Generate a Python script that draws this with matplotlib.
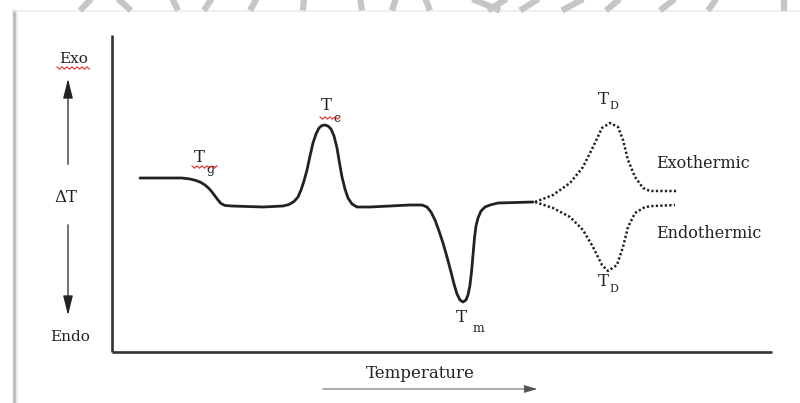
import matplotlib
matplotlib.use("Agg")
import matplotlib.pyplot as plt
from matplotlib.lines import Line2D
from matplotlib.transforms import Affine2D
import matplotlib.patches as mpatches

# DSC trace: temperature (arbitrary units) vs. heat-flow signal (arbitrary units)
temp_main = [28, 60, 70, 78, 84, 89, 93, 97, 100, 103, 106, 109, 113, 120, 151,
             171, 177, 182, 186, 189, 192, 195, 198, 201, 204, 207, 210, 213, 216,
             219, 222, 225, 227.5, 230, 233, 236, 240, 245, 258, 278, 298, 310,
             315, 319, 323, 327, 331, 335, 339, 342, 345, 348, 351, 354, 356, 358,
             359.5, 361, 362.5, 364, 366, 369, 373, 378, 386, 421]
signal_main = [174, 174, 174, 173, 171.5, 169.5, 167, 163.5, 160, 156, 152, 148.5,
               146.5, 146, 145, 146, 147.5, 150.5, 155, 162, 171, 182, 196, 209,
               218, 224, 226.5, 227, 226, 223, 216, 204, 189, 175, 163, 154, 148,
               145, 145, 146, 147, 147, 145, 140, 132, 121, 109, 95, 80, 68, 58,
               52, 50, 52, 57, 67, 80, 97, 114, 126, 134, 141, 145, 147, 149, 150]

# Decomposition branches (dotted)
temp_exo = [423, 441, 458, 471, 481, 490, 498, 506, 511, 516, 523, 531, 538, 566]
signal_exo = [150, 157, 169, 185, 205, 224, 229, 225, 212, 192, 175, 164, 161, 161]
temp_endo = [423, 441, 458, 471, 481, 490, 496, 505, 511, 516, 523, 533, 541, 563]
signal_endo = [150, 144, 135, 122, 105, 87, 81, 87, 105, 125, 139, 145, 146, 147]

W, H = 800, 403
fig = plt.figure(figsize=(W / 100, H / 100), dpi=100)
fig.patch.set_facecolor("white")

# pixel-space transform for the page furniture (origin top-left)
pix = Affine2D().scale(1 / W, -1 / H).translate(0, 1) + fig.transFigure

SERIF = ["DejaVu Serif"]
INK = "#222222"

ax = fig.add_axes([112 / W, 1 - 352 / H, (772 - 112) / W, (352 - 35) / H])
ax.set_xlim(0, 660)
ax.set_ylim(0, 317)
ax.set_xticks([])
ax.set_yticks([])
for side in ("top", "right"):
    ax.spines[side].set_visible(False)
for side in ("left", "bottom"):
    ax.spines[side].set_linewidth(1.9)
    ax.spines[side].set_color("#333333")
    ax.spines[side].set_capstyle("butt")

ax.plot(temp_main, signal_main, color=INK, lw=2.0, solid_joinstyle="round",
        solid_capstyle="round")
ax.plot(temp_exo, signal_exo, color=INK, lw=1.8, linestyle=(0, (0.9, 0.9)))
ax.plot(temp_endo, signal_endo, color=INK, lw=1.8, linestyle=(0, (0.9, 0.9)))

def tlabel(x, y, sub, sx, sy, size=12, subsize=9):
    ax.text(x, y, "T", transform=pix, fontsize=size, family=SERIF, color=INK,
            ha="center", va="center")
    ax.text(sx, sy, sub, transform=pix, fontsize=subsize, family=SERIF, color=INK,
            ha="center", va="center")

tlabel(199, 157, "g", 210, 170)
tlabel(326, 105, "c", 337, 119)
tlabel(461, 318, "m", 478, 329)
tlabel(603, 100, "D", 614, 106, subsize=8)
tlabel(603, 282, "D", 614, 289, subsize=8)

fig.text(656, 164, "Exothermic", transform=pix, fontsize=11.5, family=SERIF,
         color=INK, ha="left", va="center")
fig.text(656, 233, "Endothermic", transform=pix, fontsize=11.5, family=SERIF,
         color=INK, ha="left", va="center")

# Vertical ΔT axis annotation
fig.text(74, 59, "Exo", transform=pix, fontsize=11, family=SERIF, color=INK,
         ha="center", va="center")
fig.text(70, 337, "Endo", transform=pix, fontsize=11, family=SERIF, color=INK,
         ha="center", va="center")
fig.text(66, 197, "ΔT", transform=pix, fontsize=12, family=SERIF, color=INK,
         ha="center", va="center")
for y0, y1 in ((167, 76), (222, 318)):
    fig.patches.append(mpatches.FancyArrowPatch(
        (68, y0), (68, y1), transform=pix, arrowstyle="-|>,head_length=6,head_width=1.5",
        color=INK, lw=0.9, mutation_scale=2))

# Temperature axis annotation
fig.text(420, 374, "Temperature", transform=pix, fontsize=12, family=SERIF,
         color=INK, ha="center", va="center")
fig.patches.append(mpatches.FancyArrowPatch(
    (320, 389), (540, 389), transform=pix, arrowstyle="-|>,head_length=4,head_width=1.2",
    color="#555555", lw=0.7, mutation_scale=2))

# spell-check style wavy underlines
def squiggle(x0, x1, y):
    xs, ys = [], []
    x, k = x0, 0
    while x <= x1:
        xs.append(x)
        ys.append(y + (1.2 if k % 2 else -1.2))
        x += 2.5
        k += 1
    fig.lines.append(Line2D(xs, ys, transform=pix, color="#e0302a", lw=0.8))

squiggle(57, 91, 68)
squiggle(192, 218, 167)
squiggle(320, 340, 118)

# page frame: shaded left edge and faint top edge
fig.lines.append(Line2D([14, 14], [11, 403], transform=pix, color="#bdbdbd", lw=2.4))
fig.lines.append(Line2D([16.5, 16.5], [11, 403], transform=pix, color="#e6e6e6", lw=1.2))
fig.lines.append(Line2D([14, 800], [11, 11], transform=pix, color="#ececec", lw=1.2))

# background strokes above the page
strokes = [(92, 80), (117, 131), (172, 178), (212, 204), (257, 250), (304, 303),
           (360, 362), (396, 392), (425, 430), (470, 500), (508, 488), (540, 520),
           (585, 562), (621, 606), (676, 660), (717, 708), (784, 784)]
for xt, xb in strokes:
    ln = Line2D([xt, xb], [-2, 10.5], transform=pix, color="#c6c6c6", lw=4.5,
                solid_capstyle="butt")
    fig.lines.append(ln)

fig.savefig("out.png", dpi=100, facecolor="white")
